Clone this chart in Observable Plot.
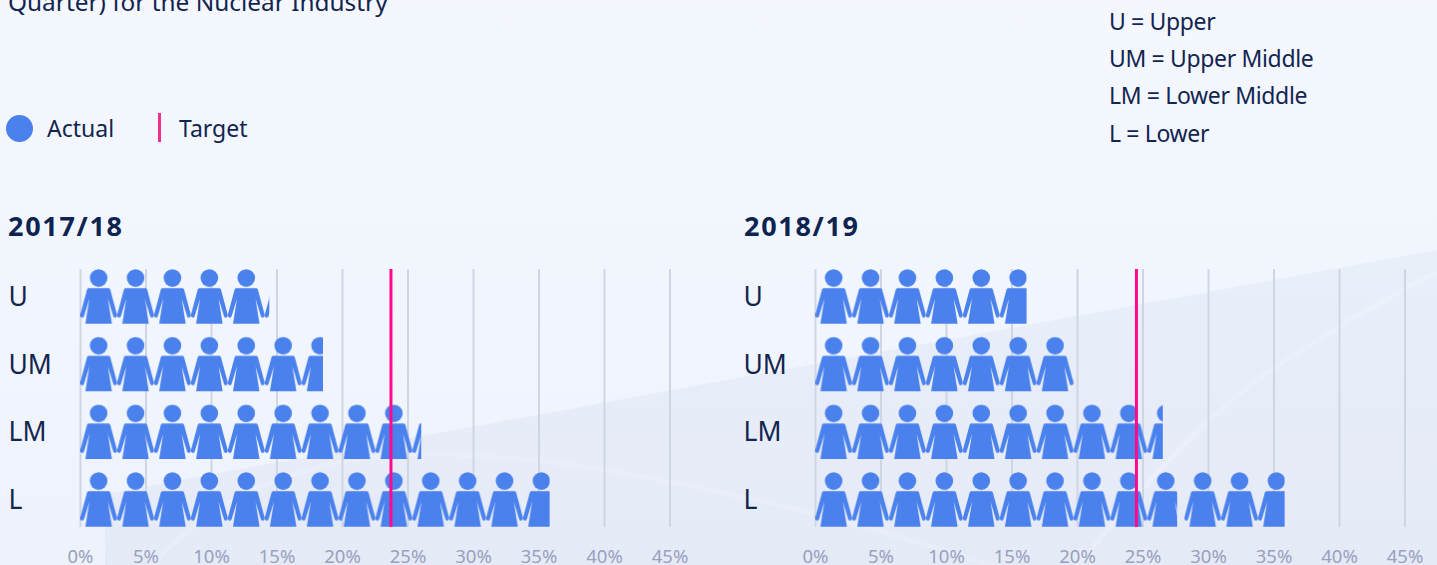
<!DOCTYPE html>
<html>
<head>
<meta charset="utf-8">
<script src="https://cdn.jsdelivr.net/npm/d3@7"></script>
<script src="https://cdn.jsdelivr.net/npm/@observablehq/plot@0.6"></script>
<style>
  html, body { margin: 0; padding: 0; width: 1437px; height: 565px; overflow: hidden; }
  body { position: relative; font-family: "Noto Sans", sans-serif; color: #12254f;
    background: linear-gradient(180deg, #f4f7fe 0%, #f1f5fd 60%, #eef2fb 100%); }
  #bg { position: absolute; inset: 0; }
  .t { position: absolute; white-space: nowrap; line-height: 1; font-size: 23px; }
  .k { letter-spacing: -0.35px; }
  .h { position: absolute; white-space: nowrap; line-height: 1; font-size: 27px; font-weight: 700; color: #0d2350; letter-spacing: 1.7px; }
  .chart { position: absolute; top: 250px; width: 715px; height: 315px; }
  .chart svg { display: block; overflow: visible; background: none; }
  #dot { position: absolute; left: 6px; top: 115px; width: 27px; height: 27px; border-radius: 50%; background: #4a81ec; }
  #bar { position: absolute; left: 158px; top: 113px; width: 3px; height: 29px; background: #ee2f8f; }
</style>
</head>
<body>
<div id="bg"></div>
<div class="t" style="left:8px;top:-10px;font-size:24.4px">Quarter) for the Nuclear Industry</div>
<div id="dot"></div><div class="t" style="left:47px;top:117px">Actual</div>
<div id="bar"></div><div class="t" style="left:179px;top:117px">Target</div>
<div class="t k" style="left:1109px;top:10px">U = Upper</div>
<div class="t k" style="left:1109px;top:47px">UM = Upper Middle</div>
<div class="t k" style="left:1109px;top:84px">LM = Lower Middle</div>
<div class="t k" style="left:1109px;top:122px">L = Lower</div>
<div class="h" style="left:8px;top:212px">2017/18</div>
<div class="h" style="left:744px;top:212px">2018/19</div>
<div class="chart" id="c1" style="left:0"></div>
<div class="chart" id="c2" style="left:735px"></div>
<script>
const quartiles = ["U", "UM", "LM", "L"];
const tickValues = [0, 5, 10, 15, 20, 25, 30, 35, 40, 45];
// Segments: [quartile, from %, to %]
const actual1718 = [["U", 0, 14.45], ["UM", 0, 18.55], ["LM", 0, 26.05], ["L", 0, 35.85]];
const actual1819 = [["U", 0, 16.15], ["UM", 0, 19.75], ["LM", 0, 26.55], ["L", 0, 27.65], ["L", 28.2, 35.85]];
const target1718 = 23.7;
const target1819 = 24.5;

document.getElementById("bg").style.background =
  "url(\"data:image/svg+xml," + encodeURIComponent(
  '<svg xmlns="http://www.w3.org/2000/svg" width="1437" height="565">' +
  '<defs><linearGradient id="g" x1="0" y1="0" x2="0" y2="1"><stop offset="0" stop-color="#e9eff9"/><stop offset="1" stop-color="#e5eaf7"/></linearGradient></defs>' +
  '<path d="M105 494L1437 250V565H105Z" fill="url(#g)"/>' +
  '<path d="M150 568C200 510 280 462 400 455C520 450 650 475 800 510C860 525 930 545 1000 568" fill="none" stroke="#f1f4fc" stroke-opacity=".35" stroke-width="5"/>' +
  '<path d="M1075 570C1130 500 1200 420 1267 373C1340 325 1400 290 1437 273" fill="none" stroke="#f1f4fc" stroke-opacity=".4" stroke-width="5"/>' +
  '</svg>') + "\") no-repeat";

const TILE_W = 36.9, ROW_STEP = 67.67;
const PERSON = "M8.5 19.2H28C28.9 19.2 29.6 19.8 29.9 20.6L36.6 45.6C36.9 46.6 36.6 47.7 35.7 48.2C34.5 48.9 33.3 48.6 32.9 47.2L27.5 29.5L31.5 54.7H5L9 29.5L3.6 47.2C3.2 48.6 2 48.9 .8 48.2C-.1 47.7-.4 46.6-.1 45.6L6.6 20.6C6.9 19.8 7.6 19.2 8.5 19.2Z";

function chart(id, segs, target, pid) {
  const defs = (index, {x, y}) => {
    const d = d3.create("svg:defs");
    const p = d.append("pattern").attr("id", pid).attr("patternUnits", "userSpaceOnUse")
      .attr("x", x(0) + 0.4).attr("y", y("U")).attr("width", TILE_W).attr("height", ROW_STEP);
    p.append("circle").attr("cx", 18.25).attr("cy", 9).attr("r", 8.8).attr("fill", "#4a81ec");
    p.append("path").attr("d", PERSON).attr("fill", "#4a81ec");
    return d.node();
  };
  const plot = Plot.plot({
    width: 715, height: 315,
    marginLeft: 80, marginRight: 45.5, marginTop: 19, marginBottom: 38,
    style: {background: "none", fontFamily: "'Noto Sans', sans-serif", overflow: "visible"},
    x: {domain: [0, 45], ticks: tickValues, label: null},
    y: {domain: quartiles, paddingInner: 0.187, paddingOuter: 0, align: 0, round: false, label: null},
    marks: [
      defs,
      Plot.ruleX(tickValues, {stroke: "#d0d5e4", strokeWidth: 2}),
      Plot.barX(segs, {x1: d => d[1], x2: d => d[2], y: d => d[0], fill: `url(#${pid})`}),
      Plot.ruleX([target], {stroke: "#ff0a8c", strokeWidth: 3}),
      Plot.axisX({values: tickValues, tickFormat: d => d + "%", tickSize: 0, tickPadding: 22,
        fontSize: 18.5, fill: "#98a1bd", stroke: null, label: null}),
      Plot.axisY({tickSize: 0, label: null, ticks: []}),
      Plot.text(quartiles, {y: d => d, text: d => d, frameAnchor: "left", textAnchor: "start",
        dx: -72, dy: 0.5, fontSize: 26.5, fill: "#12254f"})
    ]
  });
  document.getElementById(id).appendChild(plot);
}
chart("c1", actual1718, target1718, "person1");
chart("c2", actual1819, target1819, "person2");
</script>
</body>
</html>
